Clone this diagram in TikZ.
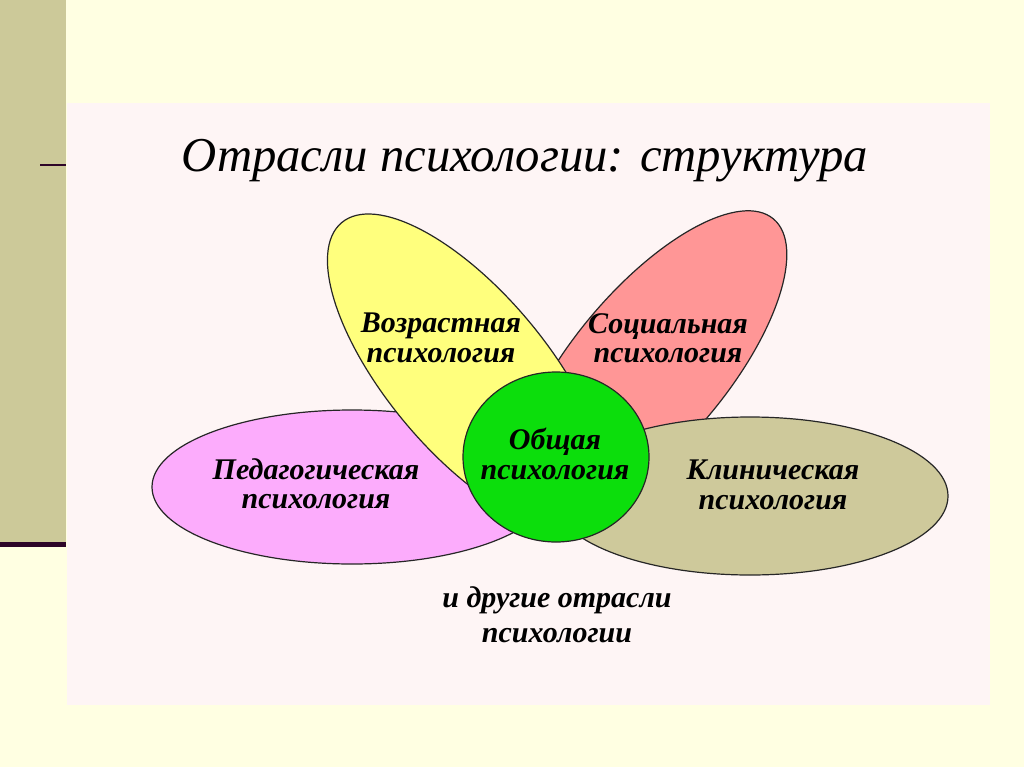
\documentclass[tikz,border=0pt]{standalone}
\usepackage{fontspec}
\setmainfont{Liberation Serif}

\definecolor{cream}{RGB}{255,255,226}
\definecolor{stripcol}{RGB}{204,201,153}
\definecolor{panelcol}{RGB}{254,245,245}
\definecolor{darkline}{RGB}{45,5,40}
\definecolor{yellowpetal}{RGB}{255,255,125}
\definecolor{salmonpetal}{RGB}{255,150,150}
\definecolor{magentapetal}{RGB}{252,172,252}
\definecolor{olivepetal}{RGB}{206,201,155}
\definecolor{greencore}{RGB}{12,222,12}

\begin{document}
\begin{tikzpicture}[x=0.75pt,y=-0.75pt,
    petal/.style={draw=black!85, line width=0.9pt},
    petaltext/.style={font=\fontsize{22.5}{22}\selectfont\bfseries\itshape, align=center}]
    % Background and frame
    \useasboundingbox (0,0) rectangle (1024,767);
    \fill[cream] (0,0) rectangle (1024,767);
    \fill[stripcol] (0,0) rectangle (66,545);
    \fill[darkline] (0,542) rectangle (66,547);
    \draw[line width=1.5pt, darkline] (40,165) -- (66,165);
    \fill[panelcol] (67,103) rectangle (990,705);

    % Title
    \node[anchor=base, font=\fontsize{36.5}{40}\selectfont\itshape] (title) at (525,171) {Отрасли психологии: структура};

    % Petals
    \draw[petal, fill=salmonpetal, rotate around={50:(650,366)}] (650,366) ellipse [x radius=144pt, y radius=57.75pt];
    \draw[petal, fill=olivepetal] (750,496) ellipse [x radius=148.5pt, y radius=59.25pt];
    \draw[petal, fill=magentapetal] (352,487) ellipse [x radius=150pt, y radius=57.75pt];
    \draw[petal, fill=yellowpetal, rotate around={-50:(467,372)}] (467,372) ellipse [x radius=146.25pt, y radius=60pt];

    % Core
    \draw[petal, fill=greencore] (556,457) ellipse [x radius=69.75pt, y radius=63.75pt];

    % Labels
    \node[petaltext] (vozr) at (441,338) {Возрастная\\психология};
    \node[petaltext] (soc) at (668,338) {Социальная\\психология};
    \node[petaltext] (ped) at (316,484) {Педагогическая\\психология};
    \node[petaltext] (klin) at (773,485) {Клиническая\\психология};
    \node[petaltext] (obsh) at (555,454) {Общая\\психология};
    \node[petaltext, font=\fontsize{22.5}{26}\selectfont\bfseries\itshape] (other) at (557,615) {и другие отрасли\\психологии};
\end{tikzpicture}
\end{document}
